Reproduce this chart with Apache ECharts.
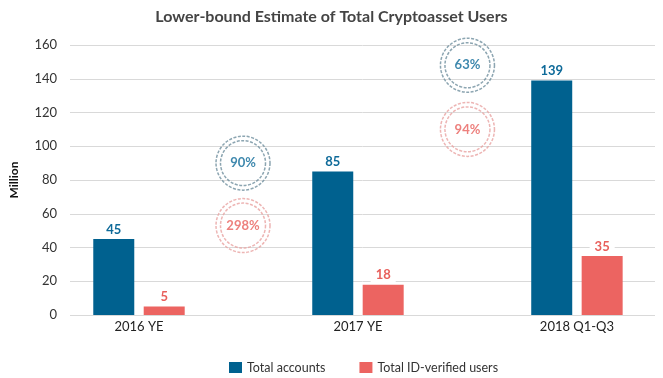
<!DOCTYPE html>
<html>
<head>
<meta charset="utf-8">
<script src="https://cdn.jsdelivr.net/npm/echarts@6/dist/echarts.min.js"></script>
<style>
  html, body { margin: 0; padding: 0; background: #fff; }
  #chart { width: 663px; height: 378px; }
</style>
</head>
<body>
<div id="chart"></div>
<script>
// ---- data ----
const categories = ['2016 YE', '2017 YE', '2018 Q1-Q3'];
const totalAccounts = [45, 85, 139];
const idVerifiedUsers = [5, 18, 35];
const seriesNames = ['Total accounts', 'Total ID-verified users'];
const yTicks = [0, 20, 40, 60, 80, 100, 120, 140, 160];
// growth annotations (between consecutive periods)
const accountsGrowth = ['90%', '63%'];
const verifiedGrowth = ['298%', '94%'];
// annotation anchors in data units (x = category index, y = value)
const growthX = [0.475, 1.5];
const accountsGrowthY = [90, 148];
const verifiedGrowthY = [53, 110];

const BLUE = '#00618f';
const RED = '#ec6461';
const FONT = 'Lato, "Open Sans", sans-serif';

const catIdx = categories.map((c, i) => i);

const chart = echarts.init(document.getElementById('chart'), null, { renderer: 'canvas' });

function circleSeries(labels, ys, color, textColor, size, showLabel) {
  return {
    type: 'scatter',
    xAxisIndex: 1,
    yAxisIndex: 1,
    symbol: 'circle',
    symbolSize: size,
    silent: true,
    z: 5,
    itemStyle: { color: 'rgba(255,255,255,0)', borderColor: color, borderWidth: 1.5, borderType: [3, 1.5] },
    label: {
      show: showLabel,
      position: 'inside',
      formatter: (p) => labels[p.dataIndex],
      color: textColor,
      fontFamily: FONT,
      fontWeight: 'bold',
      fontSize: 13
    },
    data: growthX.map((x, i) => [x, ys[i]])
  };
}

function barLabel(color) {
  return {
    show: true, position: 'top', distance: 2, color: color, fontWeight: 'bold',
    fontSize: 13, fontFamily: FONT, backgroundColor: '#fff', padding: [1, 5],
    formatter: (p) => p.value[1]
  };
}

const option = {
  animation: false,
  textStyle: { fontFamily: FONT },
  title: {
    text: 'Lower-bound Estimate of Total Cryptoasset Users',
    left: 'center',
    top: 4,
    textStyle: { fontFamily: FONT, fontSize: 16, fontWeight: 'bold', color: '#444' }
  },
  legend: {
    data: seriesNames,
    left: 224,
    top: 356,
    icon: 'rect',
    itemWidth: 13,
    itemHeight: 11,
    itemGap: 34,
    textStyle: { fontFamily: FONT, fontSize: 12.5, color: '#333' }
  },
  grid: [
    { left: 68, right: 8, top: 45, bottom: 63 },
    { left: 29.5, right: 0, top: 45, bottom: 63 }
  ],
  xAxis: [
    { gridIndex: 0, type: 'value', show: false, min: 0, max: 1 },
    {
      gridIndex: 1, type: 'value', min: -0.5, max: 2.393,
      axisLine: { show: false }, axisTick: { show: false }, splitLine: { show: false },
      axisLabel: {
        customValues: catIdx,
        formatter: (v) => categories[Math.round(v)] || '',
        color: '#222', fontSize: 13, fontFamily: FONT, margin: 5
      }
    }
  ],
  yAxis: [
    {
      gridIndex: 0, type: 'value', min: yTicks[0], max: yTicks[yTicks.length - 1], interval: 20,
      name: 'Million', nameLocation: 'middle', nameRotate: 90, nameGap: 50,
      nameTextStyle: { fontFamily: FONT, fontWeight: 'bold', fontSize: 12, color: '#111' },
      axisLine: { show: false }, axisTick: { show: false },
      axisLabel: { color: '#333', fontSize: 13, fontFamily: FONT, margin: 13 },
      splitLine: { lineStyle: { color: '#d9d9d9', width: 1 } }
    },
    { gridIndex: 1, type: 'value', min: yTicks[0], max: yTicks[yTicks.length - 1], show: false }
  ],
  series: [
    {
      name: seriesNames[0], type: 'bar', xAxisIndex: 1, yAxisIndex: 1,
      data: catIdx.map((i) => [i, totalAccounts[i]]), barWidth: 41, barGap: '23%',
      itemStyle: { color: BLUE },
      label: barLabel('#0e6a99')
    },
    {
      name: seriesNames[1], type: 'bar', xAxisIndex: 1, yAxisIndex: 1,
      data: catIdx.map((i) => [i, idVerifiedUsers[i]]), barWidth: 41, barGap: '23%',
      itemStyle: { color: RED },
      label: barLabel('#e8605c')
    },
    circleSeries(accountsGrowth, accountsGrowthY, '#6f8e9e', '#0e6a99', 54, true),
    circleSeries(accountsGrowth, accountsGrowthY, '#6f8e9e', '#0e6a99', 45, false),
    circleSeries(verifiedGrowth, verifiedGrowthY, '#e9a3a1', '#e8605c', 54, true),
    circleSeries(verifiedGrowth, verifiedGrowthY, '#e9a3a1', '#e8605c', 45, false)
  ]
};

chart.setOption(option);
</script>
</body>
</html>
